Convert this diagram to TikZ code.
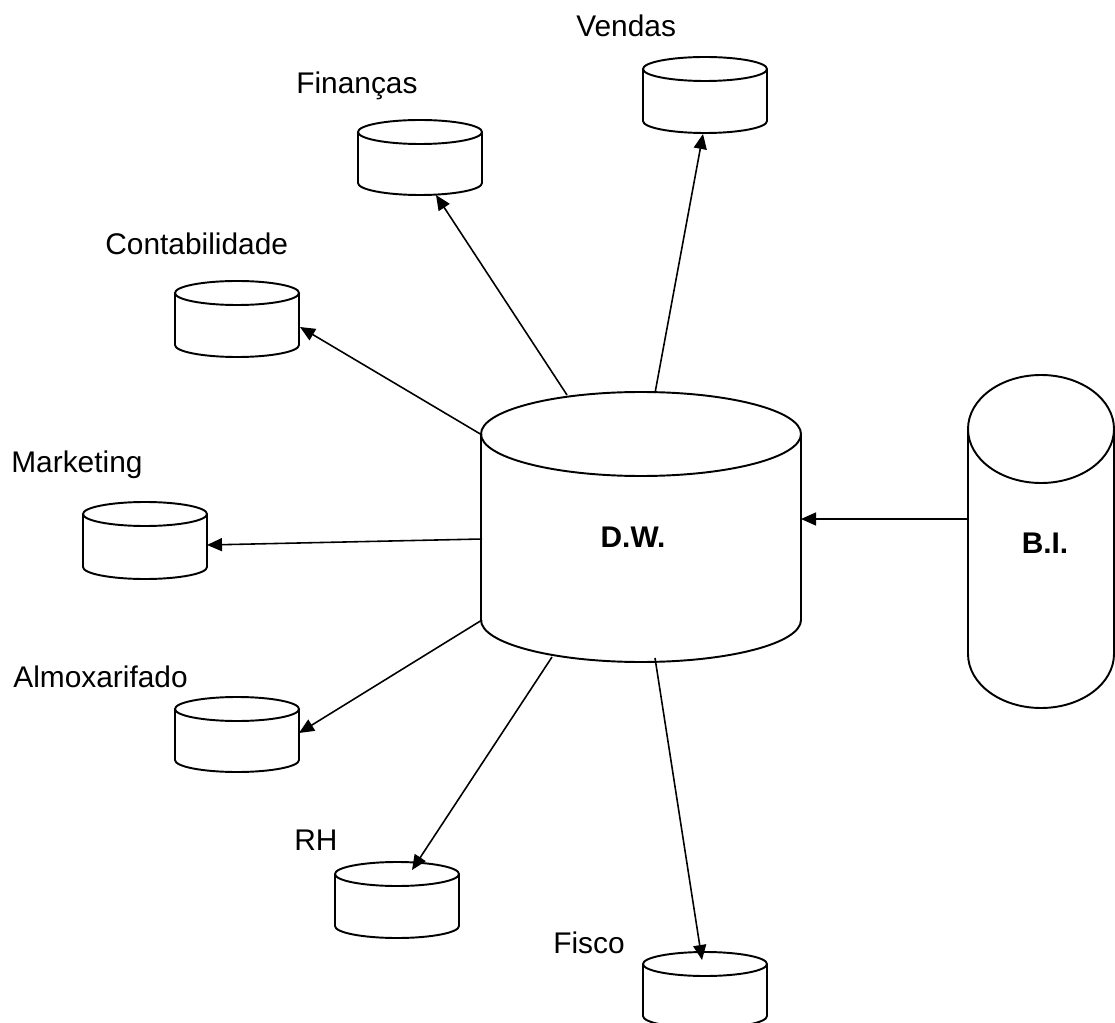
\documentclass[tikz,border=0pt]{standalone}
\usepackage{fontspec}
\setmainfont{Liberation Sans}
\usetikzlibrary{arrows.meta}
\tikzset{
  cyl/.style={draw,line width=1.1pt,fill=white},
  lbl/.style={font=\fontsize{17}{20}\selectfont,inner sep=0pt,anchor=base west},
  big/.style={font=\fontsize{17}{20}\selectfont\bfseries,inner sep=0pt,anchor=base},
  arr/.style={-{Triangle[length=0.3cm,width=0.26cm]},line width=0.9pt},
}
% cylinder: centre x, top y, bottom y, x radius, y radius
\newcommand\dbcyl[5]{%
  \path[cyl] (#1-#4,#2) -- (#1-#4,#3)
    arc[start angle=180,end angle=0,x radius=#4,y radius=#5] -- (#1+#4,#2);
  \draw[cyl] (#1,#2) ellipse[x radius=#4,y radius=#5];
}
\begin{document}
\begin{tikzpicture}[x=0.02cm,y=-0.02cm]
  \clip (0,0) rectangle (1115,1023);
  % warehouse and source
  \dbcyl{641}{434}{620}{160}{42}
  \dbcyl{1041}{429}{654}{73}{54}
  \node[big] (dw) at (633,547) {D.W.};
  \node[big] (bi) at (1045,553) {B.I.};
  % departments
  \dbcyl{705}{69}{121}{62}{12}
  \dbcyl{420}{132}{183}{62}{12}
  \dbcyl{237}{293}{345}{62}{12}
  \dbcyl{145}{514}{567}{62}{12}
  \dbcyl{237}{709}{760}{62}{12}
  \dbcyl{397}{874}{926}{62}{12}
  \dbcyl{705}{964}{1016}{62}{12}
  \node[lbl] (vendas) at (576,37) {Vendas};
  \node[lbl] (financas) at (296,94) {Finanças};
  \node[lbl] (contab) at (105,255) {Contabilidade};
  \node[lbl] (mkt) at (11,473) {Marketing};
  \node[lbl] (almox) at (13,687) {Almoxarifado};
  \node[lbl] (rh) at (294,850) {RH};
  \node[lbl] (fisco) at (553,953) {Fisco};
  % arrow ends
  \coordinate (dw-fin) at (567,395);
  \coordinate (dw-ven) at (655,393);
  \coordinate (dw-con) at (482,435);
  \coordinate (dw-mkt) at (482,539);
  \coordinate (dw-alm) at (482,620);
  \coordinate (dw-rh) at (552,657);
  \coordinate (dw-fis) at (655,658);
  \coordinate (dw-bi) at (801,519);
  \coordinate (fin-in) at (436,195);
  \coordinate (ven-in) at (703,134);
  \coordinate (con-in) at (300,327);
  \coordinate (mkt-in) at (207,545);
  \coordinate (alm-in) at (299,733);
  \coordinate (rh-in) at (412,870);
  \coordinate (fis-in) at (702,960);
  \coordinate (bi-out) at (967,519);
  \draw[arr] (dw-fin) -- (fin-in);
  \draw[arr] (dw-ven) -- (ven-in);
  \draw[arr] (dw-con) -- (con-in);
  \draw[arr] (dw-mkt) -- (mkt-in);
  \draw[arr] (dw-alm) -- (alm-in);
  \draw[arr] (dw-rh) -- (rh-in);
  \draw[arr] (dw-fis) -- (fis-in);
  \draw[arr] (bi-out) -- (dw-bi);
\end{tikzpicture}
\end{document}
